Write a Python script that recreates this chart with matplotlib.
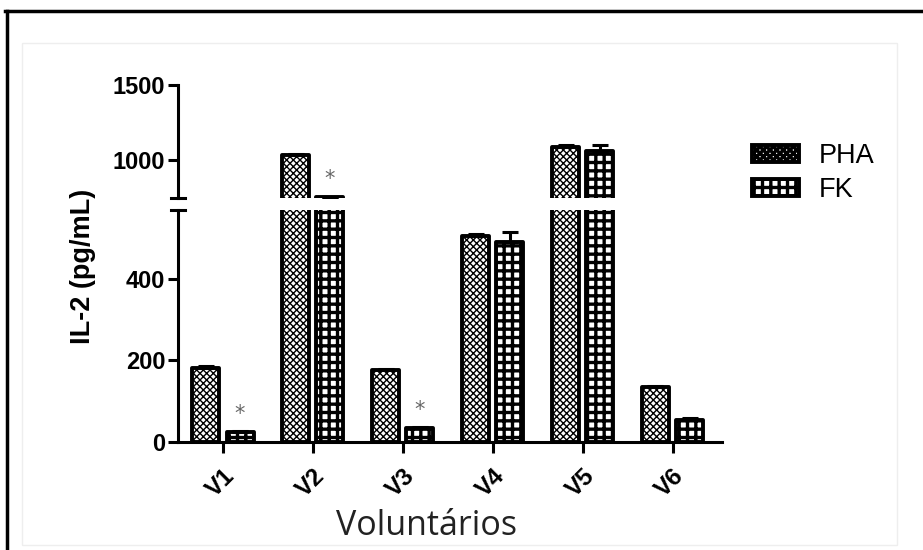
import matplotlib
matplotlib.use('Agg')
import matplotlib.pyplot as plt
from matplotlib.patches import Patch, Rectangle
from matplotlib.lines import Line2D
import numpy as np

# ---------------- data ----------------
categories = ['V1', 'V2', 'V3', 'V4', 'V5', 'V6']
series_names = ['PHA', 'FK']
pha_values = [181, 1030, 176, 505, 1085, 135]
pha_errors = [4, 12, 3, 5, 15, 3]
fk_values = [24, 752, 34, 490, 1060, 55]
fk_errors = [4, 0, 3, 25, 40, 3]
fk_significant = [True, True, True, False, False, False]
lower_ticks = [0, 200, 400]
upper_ticks = [1000, 1500]
lower_lim = (0, 568)
upper_lim = (745, 1500)
x_label = 'Voluntários'
y_label = 'IL-2 (pg/mL)'

# ---------------- figure ----------------
W, H = 923, 550
plt.rcParams['font.family'] = ['Liberation Sans', 'DejaVu Sans']
fig = plt.figure(figsize=(W / 100, H / 100), dpi=100)
fig.patch.set_facecolor('white')

left = 178 / W
right = 722 / W
ax_lo = fig.add_axes([left, 1 - 442 / H, right - left, (442 - 210) / H])
ax_hi = fig.add_axes([left, 1 - 198 / H, right - left, (198 - 85) / H])

x = np.arange(len(categories))
off = 0.19
bw = 0.30
spine_lw = 2.2
PHA_HATCH, PHA_HLW = 'xxxxx', 1.0
FK_HATCH, FK_HLW = '++', 2.4

def draw_bars(ax):
    specs = [
        (pha_values, pha_errors, -off, PHA_HATCH, PHA_HLW),
        (fk_values, fk_errors, off, FK_HATCH, FK_HLW),
    ]
    for vals, errs, dx, hatch, hlw in specs:
        plt.rcParams['hatch.linewidth'] = hlw
        ax.bar(x + dx, vals, bw, facecolor='white', edgecolor='black',
               hatch=hatch, linewidth=0, zorder=2)
        ax.bar(x + dx, vals, bw, fill=False, edgecolor='black',
               linewidth=2.8, joinstyle='round', zorder=3)
        ax.errorbar(x + dx, vals, yerr=(np.zeros(len(vals)), errs), fmt='none',
                    ecolor='black', elinewidth=2.2, capsize=5.5, capthick=2.2,
                    zorder=4)

for ax in (ax_lo, ax_hi):
    draw_bars(ax)
    ax.set_xlim(-0.5, 5.55)
    ax.set_facecolor('none')
    for s in ('top', 'right'):
        ax.spines[s].set_visible(False)
    ax.spines['left'].set_linewidth(spine_lw)
    ax.spines['bottom'].set_linewidth(spine_lw)
    ax.tick_params(axis='y', direction='out', length=7, width=spine_lw,
                   labelsize=17, pad=2)

ax_lo.set_ylim(*lower_lim)
ax_lo.set_yticks(lower_ticks)
ax_hi.set_ylim(*upper_lim)
ax_hi.set_yticks(upper_ticks)
for ax in (ax_lo, ax_hi):
    for t in ax.get_yticklabels():
        t.set_fontweight('bold')

ax_hi.spines['bottom'].set_visible(False)
ax_hi.set_xticks([])

ax_lo.set_xticks(x)
ax_lo.set_xticklabels(categories, rotation=45, ha='right',
                      rotation_mode='anchor', fontsize=17.5, fontweight='bold')
ax_lo.tick_params(axis='x', direction='out', length=8, width=spine_lw, pad=8)

# axis break marks
ax_hi.plot([-0.013, 0.013], [0, 0], transform=ax_hi.transAxes, color='black',
           lw=spine_lw, clip_on=False, zorder=5)
ax_lo.plot([-0.013, 0.013], [1, 1], transform=ax_lo.transAxes, color='black',
           lw=spine_lw, clip_on=False, zorder=5)

# significance stars
for i, sig in enumerate(fk_significant):
    if not sig:
        continue
    v = fk_values[i]
    ax = ax_lo if v <= lower_lim[1] else ax_hi
    ax.annotate('*', xy=(x[i] + off, v), xytext=(0, 13), textcoords='offset points',
                ha='center', va='center', fontsize=15, color='#666666',
                family='DejaVu Sans', annotation_clip=False)

# labels
fig.text(83 / W, 1 - 266 / H, y_label, rotation=90, ha='center', va='center',
         fontsize=19.5, fontweight='bold')
fig.text(427 / W, 1 - 535 / H, x_label, ha='center', va='baseline',
         fontsize=24.5, family='Open Sans', color='#222222')

# legend
plt.rcParams['hatch.linewidth'] = PHA_HLW
h1 = Patch(facecolor='white', edgecolor='black', hatch=PHA_HATCH, linewidth=2.8)
plt.rcParams['hatch.linewidth'] = FK_HLW
h2 = Patch(facecolor='white', edgecolor='black', hatch=FK_HATCH, linewidth=2.8)
fig.legend([h1, h2], series_names, loc='upper left',
           bbox_to_anchor=(752 / W, 1 - 143 / H), frameon=False,
           prop={'size': 19.5, 'weight': 'normal'}, handlelength=1.75,
           handleheight=0.6, handletextpad=0.7, labelspacing=0.3,
           borderpad=0, borderaxespad=0)

# outer frame
fig.add_artist(Line2D([5 / W, 1], [1 - 11 / H, 1 - 11 / H], color='black',
                      lw=2.5, transform=fig.transFigure))
fig.add_artist(Line2D([7 / W, 7 / W], [0, 1 - 11 / H], color='black',
                      lw=2.5, transform=fig.transFigure))
fig.add_artist(Rectangle((22 / W, 1 - 545 / H), (897 - 22) / W, (545 - 43) / H,
                         fill=False, edgecolor='#eeeeee', lw=1,
                         transform=fig.transFigure))

fig.savefig('out.png', dpi=100)
